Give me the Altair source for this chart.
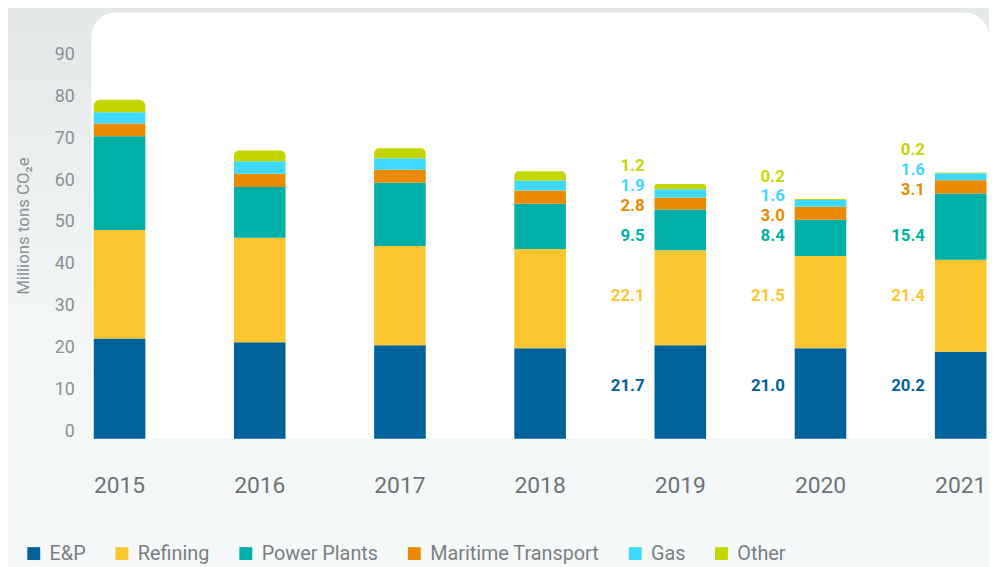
import altair as alt
import pandas as pd

# ---------------- data ----------------
years = ["2015", "2016", "2017", "2018", "2019", "2020", "2021"]
series = ["E&P", "Refining", "Power Plants", "Maritime Transport", "Gas", "Other"]
ep = [23.3, 22.4, 21.7, 21.0, 21.7, 21.0, 20.2]
refining = [25.2, 24.3, 23.1, 23.1, 22.1, 21.5, 21.4]
power_plants = [21.8, 11.8, 14.7, 10.5, 9.5, 8.4, 15.4]
maritime = [3.0, 3.1, 3.0, 3.1, 2.8, 3.0, 3.1]
gas = [2.6, 2.9, 2.7, 2.3, 1.9, 1.6, 1.6]
other = [2.9, 2.5, 2.3, 2.2, 1.2, 0.2, 0.2]
labelled_years = ["2019", "2020", "2021"]
y_ticks = [0, 10, 20, 30, 40, 50, 60, 70, 80, 90]
colors = ["#00629b", "#fcc630", "#00b0a8", "#ea8a00", "#3fd9ff", "#c4d600"]

values = [ep, refining, power_plants, maritime, gas, other]

# ---------------- build tables ----------------
rows = []
for i, yr in enumerate(years):
    base = 0.0
    for s, vals in zip(series, values):
        v = vals[i]
        rows.append({"year": yr, "series": s, "value": v, "y0": base, "y1": base + v})
        base += v
df = pd.DataFrame(rows)

color_of = dict(zip(series, colors))
# label rows (layout, in axis units)
fixed_rows = {"E&P": 12.3, "Refining": 33.2, "Power Plants": 47.2}
lab_rows = []
for yr in labelled_years:
    sub = df[df.year == yr].set_index("series")
    top_power = sub.loc["Power Plants", "y1"]
    for k, s in enumerate(series):
        if s in fixed_rows:
            pos = fixed_rows[s]
        else:
            pos = top_power + 0.8 + (k - 3) * 4.6
        lab_rows.append({"year": yr, "series": s, "pos": pos,
                         "text": f"{sub.loc[s, 'value']:.1f}", "hex": color_of[s]})
labels = pd.DataFrame(lab_rows)

W, H = 906, 430
YMAX = H / 4.34
FONT = "Roboto"

x_enc = alt.X("year:N", sort=years,
              scale=alt.Scale(paddingInner=0.632, paddingOuter=0.018),
              axis=alt.Axis(labelAngle=0, labelFontSize=23, labelColor="#6e7275",
                            labelFont=FONT, ticks=False, domain=False,
                            labelPadding=36, title=None, grid=False, zindex=1))
y_scale = alt.Scale(domain=[0, YMAX], nice=False, zero=False)
color_scale = alt.Scale(domain=series, range=colors)

one = pd.DataFrame({"a": [0]})

background = alt.Chart(one).mark_rect(
    fill=alt.Gradient(gradient="linear",
                      stops=[alt.GradientStop(color="#e3e7e8", offset=0),
                             alt.GradientStop(color="#f3f7f7", offset=0.55),
                             alt.GradientStop(color="#f6f9f9", offset=1)],
                      x1=0, x2=0, y1=0, y2=1)
).encode(x=alt.value(-100), x2=alt.value(1100), y=alt.value(-20), y2=alt.value(620))

panel = alt.Chart(one).mark_rect(
    fill="white", cornerRadiusTopLeft=25, cornerRadiusTopRight=25,
    cornerRadiusBottomLeft=10, cornerRadiusBottomRight=10
).encode(x=alt.value(0), x2=alt.value(W), y=alt.value(0), y2=alt.value(H))

legend = alt.Legend(orient="none", direction="horizontal", legendX=-68, legendY=536,
                    title=None, symbolType="square", symbolSize=169,
                    symbolStrokeWidth=0, symbolOpacity=1,
                    labelFont=FONT, labelFontSize=20, labelColor="#7a7f83",
                    labelLimit=400, labelOffset=6, columnPadding=26, padding=0,
                    zindex=1)

bars_flat = alt.Chart(df[df.series != "Other"]).mark_bar().encode(
    x=x_enc,
    y=alt.Y("y0:Q", scale=y_scale, axis=None),
    y2="y1:Q",
    color=alt.Color("series:N", scale=color_scale, sort=series, legend=legend),
)
bars_top = alt.Chart(df[df.series == "Other"]).mark_bar(
    cornerRadiusTopLeft=7, cornerRadiusTopRight=7
).encode(
    x=x_enc,
    y=alt.Y("y0:Q", scale=y_scale, axis=None),
    y2="y1:Q",
    color=alt.Color("series:N", scale=color_scale, sort=series, legend=legend),
)

text = alt.Chart(labels).mark_text(
    align="right", baseline="middle", dx=-36, font=FONT, fontSize=17, fontWeight="bold"
).encode(
    x=x_enc,
    y=alt.Y("pos:Q", scale=y_scale, axis=None),
    text="text:N",
    color=alt.Color("hex:N", scale=None),
)

axis_layer = alt.Chart(pd.DataFrame({"v": y_ticks})).mark_point(opacity=0).encode(
    y=alt.Y("v:Q", scale=alt.Scale(domain=[-1.65, 99.93], nice=False, zero=False),
            axis=alt.Axis(values=y_ticks, orient="left", ticks=False, domain=False,
                          grid=False, labelFont=FONT, labelFontSize=18,
                          labelColor="#8b9093", labelPadding=17,
                          title="Millions tons CO₂e", titleFont=FONT,
                          titleFontSize=17, titleFontWeight="normal",
                          titleColor="#8b9093", titlePadding=22, zindex=1)),
)

chart = alt.layer(background, panel, bars_flat, bars_top, text, axis_layer).resolve_scale(
    y="independent"
).properties(
    width=W, height=H,
    autosize=alt.AutoSizeParams(type="none"),
    padding={"left": 84, "top": 2, "right": 0, "bottom": 135},
    background="#e4e8e9",
).configure_view(stroke=None)

chart.save("out.html", embed_options={"renderer": "svg", "actions": False})
